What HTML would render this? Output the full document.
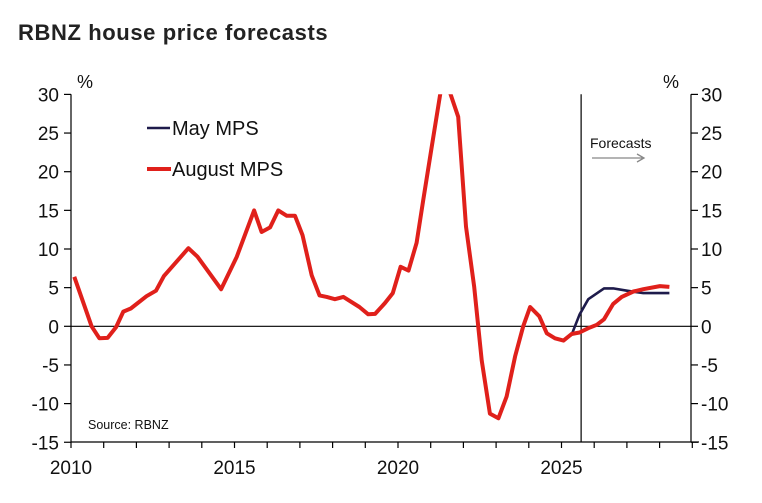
<!DOCTYPE html>
<html><head><meta charset="utf-8"><style>
body{margin:0;background:#fff}
svg{display:block;font-family:"Liberation Sans",sans-serif}
</style></head><body>
<svg id="c" width="762" height="503">
<text x="18" y="40" font-size="22" letter-spacing="0.6" fill="#222" font-weight="bold">RBNZ house price forecasts</text>
</svg>
<script>
const augYears=[2010.1,2010.63,2010.87,2011.12,2011.38,2011.6,2011.83,2012.31,2012.6,2012.84,2013.59,2013.87,2014.59,2015.07,2015.6,2015.83,2016.09,2016.34,2016.6,2016.85,2017.08,2017.36,2017.6,2017.82,2018.07,2018.33,2018.82,2019.09,2019.3,2019.6,2019.84,2020.08,2020.32,2020.57,2020.77,2021.03,2021.31,2021.57,2021.84,2022.08,2022.33,2022.56,2022.81,2023.07,2023.32,2023.58,2023.83,2024.04,2024.32,2024.55,2024.8,2025.06,2025.31,2025.55,2025.82,2026.08,2026.3,2026.58,2026.84,2027.2,2027.5,2028.01,2028.3];
const augValues=[6.4,0,-1.55,-1.5,-0.1,1.9,2.3,3.9,4.6,6.5,10.1,9.0,4.8,9.0,15.0,12.2,12.8,15.0,14.3,14.3,11.8,6.6,4.0,3.8,3.5,3.8,2.5,1.55,1.6,3.0,4.3,7.7,7.2,10.8,16.3,23.2,30.5,30.5,27.1,12.9,5.1,-4.4,-11.3,-11.9,-9.1,-3.9,0,2.5,1.3,-0.9,-1.55,-1.85,-1.0,-0.8,-0.25,0.2,0.9,2.9,3.8,4.5,4.8,5.2,5.1];
const mayYears=[2025.06,2025.31,2025.55,2025.82,2026.3,2026.58,2027.0,2027.5,2028.3];
const mayValues=[-1.85,-1.1,1.5,3.5,4.9,4.9,4.6,4.3,4.3];
const yTicks=[30,25,20,15,10,5,0,-5,-10,-15];
const xLabels=[2010,2015,2020,2025];
const forecastStart=2025.6;

const L=71,R=691,T=94.3,B=442;
const X=y=>L+(y-2010)*32.7;
const Y=v=>326.3-v*7.73;
const svg=document.getElementById('c');
const NS='http://www.w3.org/2000/svg';
function mk(tag,attrs,parent){const e=document.createElementNS(NS,tag);for(const k in attrs)e.setAttribute(k,attrs[k]);(parent||svg).appendChild(e);return e;}

const clip=mk('clipPath',{id:'pc'});mk('rect',{x:L,y:T,width:R-L,height:B-T},clip);

let e;
e=mk('line',{x1:L,y1:T,x2:L,y2:B,stroke:'#000','stroke-width':1.2});


e=mk('line',{x1:R,y1:T,x2:R,y2:B,stroke:'#000','stroke-width':1.2});


e=mk('line',{x1:L,y1:B,x2:R+8,y2:B,stroke:'#000','stroke-width':1.2});


e=mk('line',{x1:L,y1:Y(0),x2:R,y2:Y(0),stroke:'#000','stroke-width':1.2});


e=mk('line',{x1:X(forecastStart),y1:T,x2:X(forecastStart),y2:B,stroke:'#000','stroke-width':1.2});



yTicks.forEach(v=>{
 mk('line',{x1:L-7,y1:Y(v),x2:L,y2:Y(v),stroke:'#000','stroke-width':1.2});
 mk('line',{x1:R,y1:Y(v),x2:R+7,y2:Y(v),stroke:'#000','stroke-width':1.2});
 e=mk('text',{x:L-12,y:Y(v)+7,'text-anchor':'end','font-size':19,fill:'#111'});e.textContent=v;
 
 
 e=mk('text',{x:R+10,y:Y(v)+7,'font-size':19,fill:'#111'});e.textContent=v;
 
 
});
for(let yr=2010;yr<=2029;yr++){mk('line',{x1:X(yr),y1:B,x2:X(yr),y2:B+6,stroke:'#000','stroke-width':1.2});}
xLabels.forEach(yr=>{e=mk('text',{x:X(yr),y:B+32,'text-anchor':'middle','font-size':19,fill:'#111'});e.textContent=yr;
 
 });

e=mk('text',{x:77,y:88,'font-size':18,fill:'#111'});e.textContent='%';


e=mk('text',{x:663,y:88,'font-size':18,fill:'#111'});e.textContent='%';



const pts=(xs,vs)=>xs.map((x,i)=>X(x).toFixed(1)+','+Y(vs[i]).toFixed(1)).join(' ');
e=mk('polyline',{points:pts(mayYears,mayValues),fill:'none',stroke:'#1e1b4b','stroke-width':2.6,'stroke-linejoin':'round','clip-path':'url(#pc)'});


e=mk('polyline',{points:pts(augYears,augValues),fill:'none',stroke:'#e0201b','stroke-width':4,'stroke-linejoin':'round','clip-path':'url(#pc)'});



e=mk('line',{x1:147,y1:128,x2:170,y2:128,stroke:'#1e1b4b','stroke-width':2.6});


e=mk('text',{x:172,y:135,'font-size':20,fill:'#111'});e.textContent='May MPS';


e=mk('line',{x1:147,y1:169,x2:171,y2:169,stroke:'#e0201b','stroke-width':4});


e=mk('text',{x:172,y:176,'font-size':20,fill:'#111'});e.textContent='August MPS';



e=mk('text',{x:590,y:148,'font-size':14,fill:'#111'});e.textContent='Forecasts';


e=mk('path',{d:'M592,158 L644,158 M637,154 L644,158 L637,162',fill:'none',stroke:'#888','stroke-width':1.3});


e=mk('text',{x:88,y:429,'font-size':12.5,fill:'#111'});e.textContent='Source: RBNZ';


</script>
</body></html>
